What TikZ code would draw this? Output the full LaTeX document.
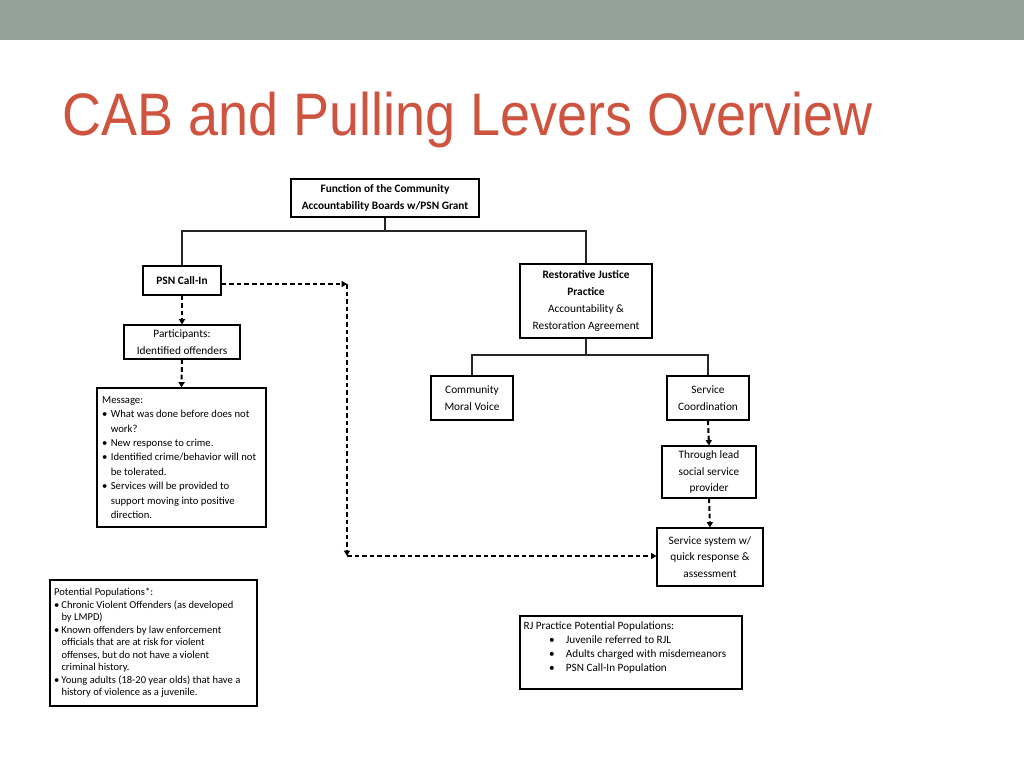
\documentclass[tikz,border=0pt]{standalone}
\usepackage{fontspec}
\setmainfont{Carlito}
\newfontfamily\titlefont[FakeStretch=0.9]{Liberation Sans}
\usetikzlibrary{arrows.meta}
\definecolor{barcol}{HTML}{93A299}
\definecolor{titlecol}{HTML}{CF543F}
\newcommand{\bitem}[2]{\par\noindent\hangindent=#1\hangafter=1\makebox[#1][l]{\textbullet}#2\par}
\tikzset{
  box/.style={draw=black, line width=0.8pt, fill=white, inner sep=2pt, align=center, font=\fontsize{8.5}{12.6}\selectfont},
  tree/.style={draw=black!85, line width=0.8pt},
  dasharrow/.style={draw=black, line width=1.5pt, dash pattern=on 3.5pt off 2.2pt, -{Triangle[length=4pt,width=4.5pt]}},
}
\begin{document}
\begin{tikzpicture}[x=0.75pt,y=-0.75pt]
\useasboundingbox (0,0) rectangle (1024,768);
\fill[barcol] (0,0) rectangle (1024,40);
\node[anchor=base west, text=titlecol, font=\titlefont\fontsize{45}{50}\selectfont, inner sep=0pt] (title) at (62,135) {CAB and Pulling Levers Overview};

% boxes
\node[box, minimum width=141pt, minimum height=28.5pt, font=\bfseries\fontsize{8.5}{12.6}\selectfont] (func) at (385,198) {Function of the Community\\Accountability Boards w/PSN Grant};
\node[box, minimum width=58.5pt, minimum height=21.75pt, font=\bfseries\fontsize{8.5}{12.6}\selectfont] (psn) at (182,280.5) {PSN Call-In};
\node[box, minimum width=87pt, minimum height=25.5pt] (part) at (182,342) {Participants:\\Identified offenders};
\node[box, minimum width=126.75pt, minimum height=104.25pt, align=left, inner sep=0pt] (msg) at (181.5,457.5) {%
\begin{minipage}{119pt}\fontsize{8}{10.8}\selectfont\raggedright
Message:
\bitem{6.5pt}{What was done before does not\newline work?}
\bitem{6.5pt}{New response to crime.}
\bitem{6.5pt}{Identified crime/behavior will not\newline be tolerated.}
\bitem{6.5pt}{Services will be provided to\newline support moving into positive\newline direction.}
\end{minipage}};
\node[box, minimum width=99pt, minimum height=55.5pt] (rj) at (586,301) {\textbf{Restorative Justice}\\\textbf{Practice}\\Accountability \&\\Restoration Agreement};
\node[box, minimum width=61.5pt, minimum height=33pt] (cmv) at (472,398) {Community\\Moral Voice};
\node[box, minimum width=61.5pt, minimum height=33pt] (sc) at (708,398) {Service\\Coordination};
\node[box, minimum width=70.5pt, minimum height=39pt] (tl) at (709,472) {Through lead\\social service\\provider};
\node[box, minimum width=79.5pt, minimum height=43.5pt] (ss) at (710,557) {Service system w/\\quick response \&\\assessment};
\node[box, minimum width=155.25pt, minimum height=94.5pt, align=left, inner sep=0pt] (pp) at (153.5,643) {%
\begin{minipage}{149pt}\fontsize{7.9}{9.4}\selectfont\raggedright
Potential Populations*:
\bitem{5.5pt}{Chronic Violent Offenders (as developed\newline by LMPD)}
\bitem{5.5pt}{Known offenders by law enforcement\newline officials that are at risk for violent\newline offenses, but do not have a violent\newline criminal history.}
\bitem{5.5pt}{Young adults (18-20 year olds) that have a\newline history of violence as a juvenile.}
\end{minipage}};
\node[box, minimum width=166.5pt, minimum height=54.75pt, align=left, inner sep=0pt] (rjp) at (631,652.5) {%
\begin{minipage}[t][46pt]{161pt}\fontsize{8.4}{10.5}\selectfont
RJ Practice Potential Populations:\\
\hspace*{19pt}\textbullet\hspace{8.5pt}Juvenile referred to RJL\\
\hspace*{19pt}\textbullet\hspace{8.5pt}Adults charged with misdemeanors\\
\hspace*{19pt}\textbullet\hspace{8.5pt}PSN Call-In Population
\end{minipage}};

% tree connectors
\coordinate (j1) at (385,231);
\coordinate (j2) at (586,355);
\draw[tree] (func.south) -- (j1);
\draw[tree] (j1) -| (psn.north);
\draw[tree] (j1) -| (rj.north);
\draw[tree] (rj.south) -- (j2);
\draw[tree] (j2) -| (cmv.north);
\draw[tree] (j2) -| (sc.north);

% dashed arrows
\draw[dasharrow] (psn.south) -- (part.north);
\draw[dasharrow] (part.south) -- (msg.north);
\draw[dasharrow] (sc.south) -- (tl.north);
\draw[dasharrow] (tl.south) -- (ss.north);
\coordinate (c1) at (347,284);
\coordinate (c2) at (347,556);
\draw[dasharrow] (psn.east |- c1) -- (c1);
\draw[dasharrow] (c1) -- (c2);
\draw[dasharrow] (c2) -- (ss.west |- c2);
\end{tikzpicture}
\end{document}
